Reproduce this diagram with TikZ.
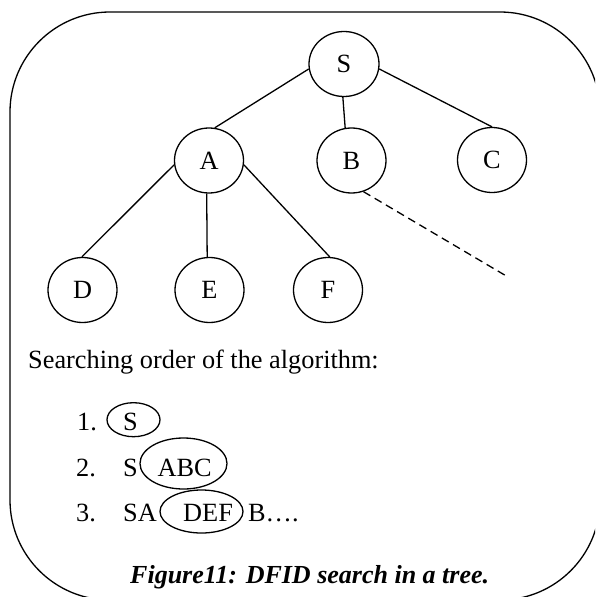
\documentclass[tikz,border=0pt]{standalone}
\usepackage{fontspec}
\setmainfont{Liberation Serif}
\usetikzlibrary{shapes.geometric}

\tikzset{
  treenode/.style={draw, ellipse, line width=1.3pt, inner sep=0pt,
    minimum width=69pt, minimum height=65pt,
    font=\fontsize{26.3}{31}\selectfont},
  edge/.style={line width=1.3pt},
  hint/.style={line width=1.3pt, dash pattern=on 8pt off 5pt},
  txt/.style={anchor=base west, inner sep=0pt,
    font=\fontsize{26.3}{31}\selectfont},
  ring/.style={draw, ellipse, line width=1.3pt, inner sep=0pt},
  frame/.style={line width=1.3pt, rounded corners=100pt}
}

\begin{document}
\begin{tikzpicture}[x=1pt, y=-1pt]
  \useasboundingbox (0,0) rectangle (595,597);
  \clip (0,0) rectangle (595,597);

  % outer rounded panel
  \draw[frame] (10,12) rectangle (600,600);

  % the search tree
  \node[treenode, minimum width=70pt] (S) at (344,64) {S};
  \node[treenode] (A) at (209,160.5) {A};
  \node[treenode] (B) at (351.5,160.5) {B};
  \node[treenode] (C) at (492,160) {C};
  \node[treenode] (D) at (82.5,290) {D};
  \node[treenode] (E) at (209.5,290) {E};
  \node[treenode] (F) at (328,290) {F};
  \coordinate (Bmore) at (508,277);

  \draw[edge] (S.188) -- (A.80);
  \draw[edge] (S.268) -- (B.101);
  \draw[edge] (S.-8) -- (C.90);
  \draw[edge] (A.187) -- (D.91);
  \draw[edge] (A.266) -- (E.94);
  \draw[edge] (A.-7) -- (F.87);
  \draw[hint] (B.-69) -- (Bmore);

  % searching order
  \node[txt] (title) at (28,368) {Searching order of the algorithm:};

  \node[ring, minimum width=53pt, minimum height=34pt] (r1) at (133.5,419.7) {};
  \node[txt] (n1) at (77,430.7) {1.};
  \node[txt] (s1) at (123,430.7) {S};

  \node[ring, minimum width=87pt, minimum height=51pt] (r2) at (183.5,463.5) {};
  \node[txt] (n2) at (76,476) {2.};
  \node[txt] (s2) at (123,476) {S};
  \node[txt] (s2b) at (157.5,476) {ABC};

  \node[ring, minimum width=83pt, minimum height=43pt] (r3) at (201.5,511.5) {};
  \node[txt] (n3) at (76,521.7) {3.};
  \node[txt] (s3) at (123,521.7) {SA};
  \node[txt] (s3b) at (183,521.7) {DEF};
  \node[txt] (s3c) at (248,521.7) {B….};

  % caption
  \node[txt, font=\fontsize{26}{31}\selectfont\bfseries\itshape] (cap) at (130,583)
    {Figure11: DFID search in a tree.};
\end{tikzpicture}
\end{document}
